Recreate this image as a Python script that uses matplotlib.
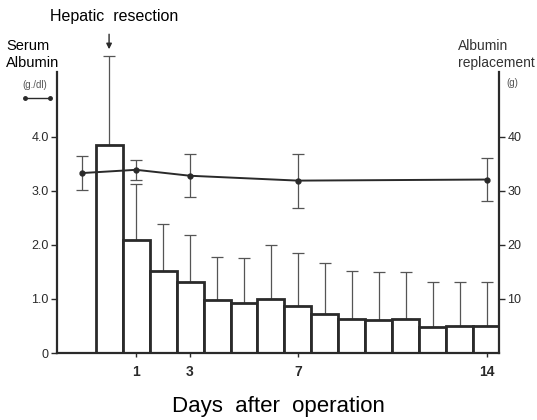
import matplotlib
matplotlib.use("Agg")
import matplotlib.pyplot as plt
from matplotlib.lines import Line2D
import numpy as np

plt.rcParams["font.family"] = ["Liberation Sans", "DejaVu Sans"]

# 補充アルブミン量 (g) : 術後0〜14日
repl_days = list(range(0, 15))
repl_mean = [38.5, 20.9, 15.2, 13.2, 9.9, 9.2, 10.0, 8.7, 7.2, 6.2, 6.1, 6.3, 4.9, 5.0, 5.0]
repl_upper = [55.0, 31.3, 23.9, 21.9, 17.8, 17.5, 19.9, 18.5, 16.7, 15.1, 14.9, 14.9, 13.2, 13.2, 13.2]

# 血清アルブミン (g/dl) : 術前, 1, 3, 7, 14日
alb_days = [-1, 1, 3, 7, 14]
alb_mean = [3.33, 3.39, 3.28, 3.19, 3.21]
alb_sd = [0.32, 0.19, 0.40, 0.50, 0.40]

xtick_days = [1, 3, 7, 14]
left_ticks = [0, 1.0, 2.0, 3.0, 4.0]
left_labels = ["0", "1.0", "2.0", "3.0", "4.0"]
right_ticks = [10, 20, 30, 40]

dark = "#2a2a2a"
grey = "#555555"

fig = plt.figure(figsize=(5.37, 4.2), dpi=100)
ax = fig.add_axes([57 / 537, 1 - 353 / 420, 442 / 537, 281 / 420])
ax2 = ax.twinx()

# 棒グラフ（右軸）
ax2.bar(repl_days, repl_mean, width=1.0, color="white", edgecolor=dark, linewidth=2.0, zorder=2)
err_up = np.array(repl_upper) - np.array(repl_mean)
eb = ax2.errorbar(repl_days, repl_mean, yerr=[np.zeros(len(err_up)), err_up], fmt="none",
                  ecolor=grey, elinewidth=0.9, capsize=4, capthick=0.9, zorder=1)
for art in eb.get_children():
    art.set_clip_on(False)

# 折れ線（左軸）
ax.set_zorder(ax2.get_zorder() + 1)
ax.patch.set_visible(False)
ax.errorbar(alb_days, alb_mean, yerr=alb_sd, fmt="-o", color=dark, ms=3.5, lw=1.4,
            ecolor=grey, elinewidth=0.9, capsize=4, capthick=0.9)

ax.set_xlim(-1.93, 14.45)
ax.set_ylim(0, 5.2)
ax2.set_ylim(0, 52)

ax.set_xticks(xtick_days)
ax.set_xticklabels([str(d) for d in xtick_days], fontsize=10, fontweight="bold")
ax.set_yticks(left_ticks)
ax.set_yticklabels(left_labels, fontsize=9, color="#333333")
ax2.set_yticks(right_ticks)
ax2.set_yticklabels([str(t) for t in right_ticks], fontsize=9, color="#333333")

ax.tick_params(axis="x", length=3, width=1, pad=6, colors=dark)
ax.tick_params(axis="y", length=4, width=1, pad=2, colors=dark)
ax2.tick_params(axis="y", length=4, width=1, pad=2, colors=dark)

for a in (ax, ax2):
    a.spines["top"].set_visible(False)
    for s in a.spines.values():
        s.set_linewidth(1.6)
        s.set_color(dark)
ax.spines["right"].set_visible(False)
ax2.spines["left"].set_visible(False)
ax2.spines["bottom"].set_visible(False)

ax.set_xlabel("Days  after  operation", fontsize=16, labelpad=12)

# 注記
fig.text(114 / 537, 1 - 17 / 420, "Hepatic  resection", fontsize=11.5, ha="center", va="center")
ax.annotate("", xy=(0, 5.57), xytext=(0, 5.95), annotation_clip=False,
            arrowprops=dict(arrowstyle="-|>", color=dark, lw=1.0, mutation_scale=8))

fig.text(6 / 537, 1 - 46 / 420, "Serum", fontsize=10.5, ha="left", va="center")
fig.text(6 / 537, 1 - 63 / 420, "Albumin", fontsize=10.5, ha="left", va="center")
fig.text(35 / 537, 1 - 85 / 420, "(g./dl)", fontsize=7, ha="center", va="center", color="#555555")
fig.add_artist(Line2D([25 / 537, 50 / 537], [1 - 98 / 420, 1 - 98 / 420], color=dark, lw=1.0,
                      marker="o", ms=2.5, transform=fig.transFigure))

fig.text(458 / 537, 1 - 46 / 420, "Albumin", fontsize=10, ha="left", va="center", color="#333333")
fig.text(458 / 537, 1 - 63 / 420, "replacement", fontsize=10, ha="left", va="center", color="#333333")
fig.text(512 / 537, 1 - 83 / 420, "(g)", fontsize=7, ha="center", va="center", color="#555555")

fig.savefig("out.png", dpi=100)
